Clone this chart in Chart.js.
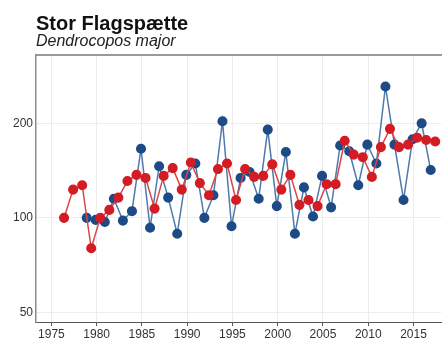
<!DOCTYPE html>
<html>
<head>
<meta charset="utf-8">
<script src="https://cdn.jsdelivr.net/npm/chart.js@4"></script>
<style>
  html, body { margin: 0; padding: 0; background: #fff; }
  #wrap { width: 447px; height: 343px; position: relative; }
</style>
</head>
<body>
<div id="wrap"><canvas id="chart"></canvas></div>
<script>
(function () {
  "use strict";

  // breeding season counts (red) and winter counts (blue), index 100
  const redYears = [1976, 1977, 1978, 1979, 1980, 1981, 1982, 1983, 1984, 1985,
                    1986, 1987, 1988, 1989, 1990, 1991, 1992, 1993, 1994, 1995,
                    1996, 1997, 1998, 1999, 2000, 2001, 2002, 2003, 2004, 2005,
                    2006, 2007, 2008, 2009, 2010, 2011, 2012, 2013, 2014, 2015,
                    2016, 2017];
  const redValues = [100, 123, 127, 80, 100, 106, 116, 131, 137, 134,
                     107, 136, 144, 123, 150, 129, 118, 143, 149, 114,
                     143, 135, 136, 148, 123, 137, 110, 114, 109, 128,
                     128, 176, 159, 156, 135, 168, 192, 168, 171, 180,
                     177, 175];

  const blueYears = [1979, 1980, 1981, 1982, 1983, 1984, 1985,
                     1986, 1987, 1988, 1989, 1990, 1991, 1992, 1993, 1994, 1995,
                     1996, 1997, 1998, 1999, 2000, 2001, 2002, 2003, 2004, 2005,
                     2006, 2007, 2008, 2009, 2010, 2011, 2012, 2013, 2014, 2015,
                     2016, 2017];
  const blueValues = [100, 98.5, 97, 115, 98, 105, 166,
                      93, 146, 116, 89, 137, 149, 100, 118, 203, 94,
                      134, 140, 115, 191, 109, 162, 89, 125, 101, 136,
                      108, 170, 163, 127, 171, 149, 262, 171, 114, 178,
                      200, 142];

  const xTicks = [1975, 1980, 1985, 1990, 1995, 2000, 2005, 2010, 2015];
  const yTicks = [50, 100, 200];

  // season offsets within the year (spring vs. mid-winter)
  const RED_OFFSET = 0.4;
  const BLUE_OFFSET = -0.1;

  const FONT = "'Liberation Sans', Arial, sans-serif";

  const toPoints = (years, vals, off) => years.map((y, i) => ({ x: y + off, y: vals[i] }));

  new Chart(document.getElementById("chart"), {
    type: "line",
    data: {
      datasets: [
        {
          data: toPoints(blueYears, blueValues, BLUE_OFFSET),
          borderColor: "#4d79ad",
          borderWidth: 1.5,
          pointBackgroundColor: "#1c4b86",
          pointBorderColor: "#1c4b86",
          pointRadius: 4.3,
          tension: 0,
          order: 2
        },
        {
          data: toPoints(redYears, redValues, RED_OFFSET),
          borderColor: "#d9474a",
          borderWidth: 1.5,
          pointBackgroundColor: "#d31c24",
          pointBorderColor: "#d31c24",
          pointRadius: 4.3,
          tension: 0,
          order: 1
        }
      ]
    },
    options: {
      responsive: true,
      maintainAspectRatio: false,
      animation: false,
      layout: { padding: 0 },
      plugins: {
        legend: { display: false },
        tooltip: { enabled: false },
        title: {
          display: true,
          text: "Stor Flagspætte",
          align: "start",
          fullSize: false,
          color: "#111",
          font: { family: FONT, size: 20, weight: "bold", lineHeight: 1 },
          padding: { top: 14, bottom: 0 }
        },
        subtitle: {
          display: true,
          text: "Dendrocopos major",
          align: "start",
          fullSize: false,
          color: "#222",
          font: { family: FONT, size: 16, style: "italic", lineHeight: 1 },
          padding: { top: 0, bottom: 5 }
        }
      },
      scales: {
        x: {
          type: "linear",
          min: 1973.3,
          max: 2018.06,
          afterBuildTicks: s => { s.ticks = xTicks.map(v => ({ value: v })); },
          afterFit: s => { s.height = 21; },
          ticks: {
            color: "#333",
            font: { family: FONT, size: 12 },
            padding: 1,
            maxRotation: 0,
            autoSkip: false,
            callback: v => String(v)
          },
          grid: { color: "#ececec", lineWidth: 1, tickLength: 4, tickColor: "#555" },
          border: { color: "#555", width: 1 }
        },
        xTop: {
          type: "linear",
          position: "top",
          min: 1973.3,
          max: 2018.06,
          afterFit: s => { s.height = 0; },
          ticks: { display: false },
          grid: { display: false, drawTicks: false },
          border: { color: "#9a9a9a", width: 2 }
        },
        y: {
          type: "logarithmic",
          min: 46.6,
          max: 330,
          afterBuildTicks: s => { s.ticks = yTicks.map(v => ({ value: v })); },
          afterFit: s => { s.width = 36; },
          ticks: {
            color: "#333",
            font: { family: FONT, size: 12 },
            padding: 3,
            callback: v => String(v)
          },
          grid: { color: "#ececec", lineWidth: 1, drawTicks: false },
          border: { color: "#8c8c8c", width: 1.5 }
        }
      }
    }
  });
})();
</script>
</body>
</html>
